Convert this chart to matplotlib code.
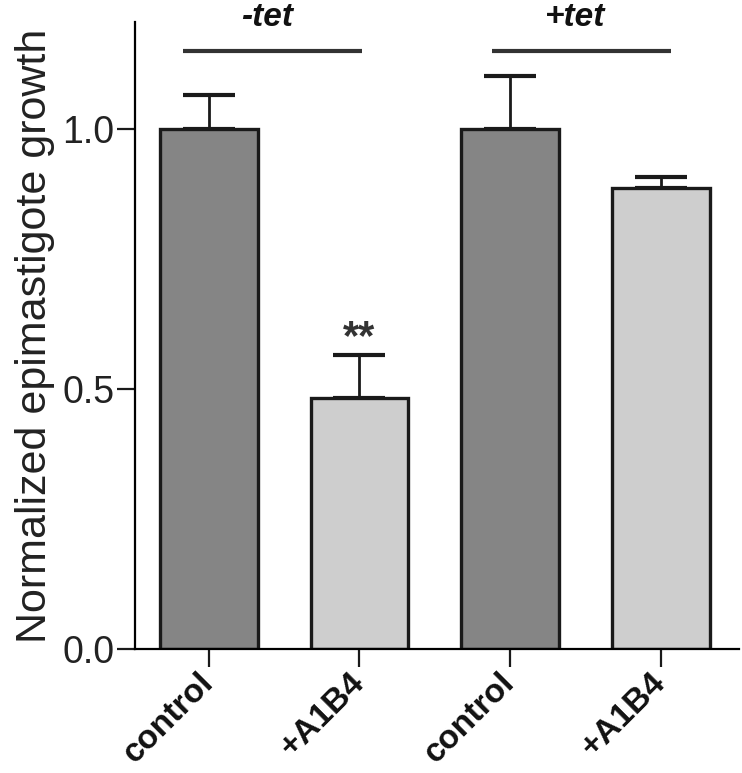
import matplotlib
matplotlib.use('Agg')
import matplotlib.pyplot as plt

# Data
labels = ['control', '+A1B4', 'control', '+A1B4']
values = [1.0, 0.483, 1.0, 0.887]
errors = [0.064, 0.082, 0.102, 0.021]
colors = ['#858585', '#cecece', '#858585', '#cecece']
groups = ['-tet', '+tet']
group_spans = [(-0.17, 1.02), (1.88, 3.07)]
yticks = [0.0, 0.5, 1.0]

plt.rcParams['font.family'] = ['Liberation Sans', 'DejaVu Sans']

fig = plt.figure(figsize=(7.42, 7.73), dpi=100)
ax = fig.add_axes([0.182, 0.1604, 0.814, 0.811])

x = list(range(len(values)))

# error bars first so the bar outline hides the lower cap
ax.errorbar(x, values, yerr=[[0] * len(errors), errors], fmt='none',
            ecolor='#1a1a1a', elinewidth=2.0, capsize=19, capthick=3.0, zorder=1)
ax.bar(x, values, width=0.65, color=colors, edgecolor='#1a1a1a', linewidth=2.4, zorder=2)

ax.set_xlim(-0.49, 3.52)
ax.set_ylim(0, 1.205)

ax.set_yticks(yticks)
ax.set_yticklabels(['%.1f' % t for t in yticks], fontsize=27, color='#222222')
ax.set_xticks(x)
ax.set_xticklabels(labels, rotation=45, ha='right', va='center', rotation_mode='anchor',
                   fontsize=24, fontweight='bold', color='#111111')
ax.tick_params(axis='both', direction='out', length=13, width=1.6, color='#1a1a1a')
ax.tick_params(axis='y', pad=2)
ax.tick_params(axis='x', pad=8)

ax.spines['top'].set_visible(False)
ax.spines['right'].set_visible(False)
ax.spines['left'].set_linewidth(1.6)
ax.spines['bottom'].set_linewidth(1.6)

ax.set_ylabel('Normalized epimastigote growth', fontsize=31, color='#222222', labelpad=5)

# group bars and labels above the plot
for name, (x0, x1) in zip(groups, group_spans):
    ax.plot([x0, x1], [1.15, 1.15], color='#333333', linewidth=3, clip_on=False,
            solid_capstyle='butt')
    ax.text((x0 + x1) / 2 - 0.04, 1.185, name, ha='center', va='bottom', fontsize=24,
            fontweight='bold', fontstyle='italic', color='#111111')

# significance marker
ax.text(1, 0.56, '**', ha='center', va='bottom', fontsize=30, fontweight='bold',
        color='#333333')

fig.savefig('out.png', dpi=100)
